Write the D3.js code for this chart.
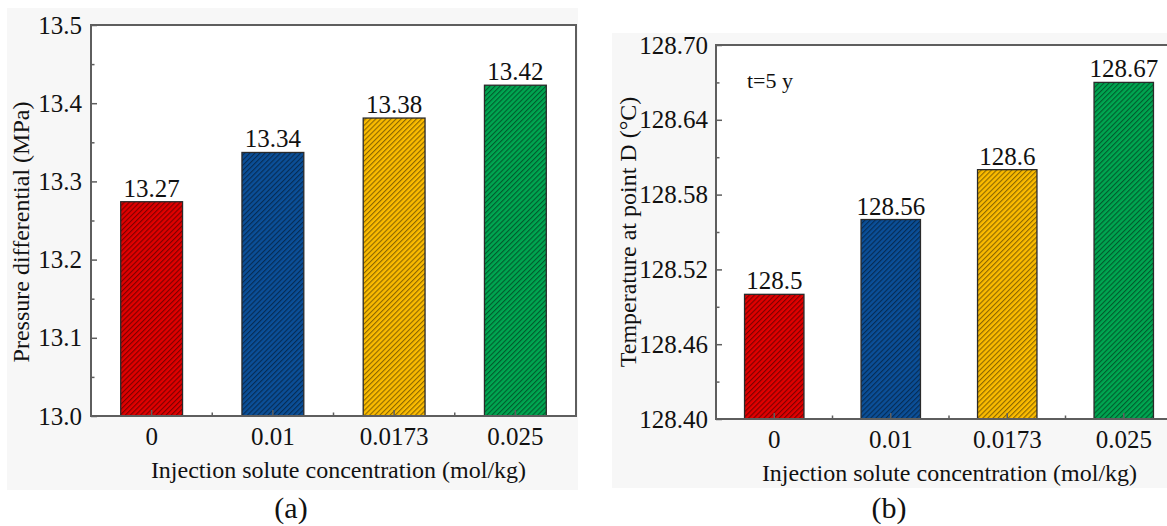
<!DOCTYPE html>
<html>
<head>
<meta charset="utf-8">
<script src="https://cdn.jsdelivr.net/npm/d3@7"></script>
<style>
  body { margin: 0; background: #fff; }
</style>
</head>
<body>
<svg id="chart" width="1167" height="526"></svg>
<script>
// data
var categories = ['0', '0.01', '0.0173', '0.025'];
var barColors = ['#e00000', '#0b4f98', '#fbbb00', '#00a651'];

var pressureValues = [13.274, 13.337, 13.381, 13.423];
var pressureTicks = [13.0, 13.1, 13.2, 13.3, 13.4, 13.5];

var tempValues = [128.5, 128.56, 128.6, 128.67];
var tempTicks = [128.40, 128.46, 128.52, 128.58, 128.64, 128.70];

var FONT = 'Liberation Serif';

var svg = d3.select('#chart');

// hatch pattern, one per colour
var defs = svg.append('defs');
barColors.forEach(function (c, i) {
    var p = defs.append('pattern')
        .attr('id', 'hatch' + i)
        .attr('patternUnits', 'userSpaceOnUse')
        .attr('width', 3.6)
        .attr('height', 3.6)
        .attr('patternTransform', 'rotate(45)');
    p.append('rect').attr('width', 3.6).attr('height', 3.6).attr('fill', c);
    p.append('line')
        .attr('x1', 0.6).attr('y1', 0).attr('x2', 0.6).attr('y2', 3.6)
        .attr('stroke', 'rgba(0,0,0,0.5)')
        .attr('stroke-width', 1);
});

function drawPanel(o) {
    var g = svg.append('g');

    // grey panel background
    g.append('rect')
        .attr('x', o.bg[0]).attr('y', o.bg[1])
        .attr('width', o.bg[2]).attr('height', o.bg[3])
        .attr('fill', '#f7f7f7');

    g.append('rect')
        .attr('x', o.left).attr('y', o.top)
        .attr('width', o.right - o.left).attr('height', o.bottom - o.top)
        .attr('fill', '#fff');

    var x = d3.scaleBand()
        .domain(categories)
        .range([o.left, o.right])
        .paddingInner(0.49)
        .paddingOuter(0.245);

    var y = d3.scaleLinear()
        .domain([o.ticks[0], o.ticks[o.ticks.length - 1]])
        .range([o.bottom, o.top]);

    // bars
    g.selectAll('rect.bar')
        .data(o.values)
        .enter()
        .append('rect')
        .attr('class', 'bar')
        .attr('x', function (d, i) { return x(categories[i]); })
        .attr('y', function (d) { return y(d); })
        .attr('width', x.bandwidth())
        .attr('height', function (d) { return o.bottom - y(d); })
        .attr('fill', function (d, i) { return 'url(#hatch' + i + ')'; })
        .attr('stroke', '#2a2a2a')
        .attr('stroke-width', 1.3);

    // value labels
    g.selectAll('text.val')
        .data(o.values)
        .enter()
        .append('text')
        .attr('class', 'val')
        .attr('x', function (d, i) { return x(categories[i]) + x.bandwidth() / 2; })
        .attr('y', function (d) { return y(d) - 5; })
        .attr('text-anchor', 'middle')
        .attr('font-size', 25)
        .text(o.fmt);

    var axisColor = '#5e5e5e';

    // y minor ticks (between majors)
    var step = o.ticks[1] - o.ticks[0];
    var minor = o.ticks.slice(0, -1).map(function (t) { return t + step / 2; });
    var yAxis = d3.axisLeft(y).tickValues(o.ticks).tickSize(-6).tickFormat(o.tickFmt).tickPadding(o.yPad);
    var yMinor = d3.axisLeft(y).tickValues(minor).tickSize(-3.5).tickFormat('');

    g.append('g').attr('transform', 'translate(' + o.left + ',0)').call(yAxis);
    g.append('g').attr('transform', 'translate(' + o.left + ',0)').call(yMinor);

    // x ticks: centre major, band edges minor
    var xAxis = d3.axisBottom(x).tickSize(-6).tickPadding(11);
    var xa = g.append('g').attr('transform', 'translate(0,' + o.bottom + ')').call(xAxis);
    var edges = d3.range(1, categories.length).map(function (i) { return o.left + i * x.step(); });
    g.selectAll('line.xminor')
        .data(edges)
        .enter()
        .append('line')
        .attr('x1', function (d) { return d; })
        .attr('x2', function (d) { return d; })
        .attr('y1', o.bottom)
        .attr('y2', o.bottom - 3.5)
        .attr('stroke', axisColor)
        .attr('stroke-width', 1.5);

    g.selectAll('.domain').remove();
    g.selectAll('.tick line').attr('stroke', axisColor).attr('stroke-width', 1.5);
    g.selectAll('.tick text')
        .attr('font-size', 25)
        .attr('fill', '#111');
    xa.selectAll('.tick text').attr('dy', '0.71em');

    // frame
    g.append('rect')
        .attr('x', o.left).attr('y', o.top)
        .attr('width', o.right - o.left).attr('height', o.bottom - o.top)
        .attr('fill', 'none')
        .attr('stroke', axisColor)
        .attr('stroke-width', 2);

    // axis titles
    g.append('text')
        .attr('x', (o.left + Math.min(o.right, 1167)) / 2 + o.xTitleShift)
        .attr('y', o.bottom + 62)
        .attr('text-anchor', 'middle')
        .attr('font-size', 24)
        .text('Injection solute concentration (mol/kg)');

    g.append('text')
        .attr('transform', 'translate(' + o.yTitleX + ',' + o.yTitleY + ') rotate(-90)')
        .attr('text-anchor', 'middle')
        .attr('font-size', 24)
        .text(o.yTitle);

    g.append('text')
        .attr('x', o.labelX)
        .attr('y', 518)
        .attr('text-anchor', 'middle')
        .attr('font-size', 30)
        .text(o.label);

    return g;
}

drawPanel({
    bg: [7, 8, 571, 482],
    left: 91, right: 576, top: 25, bottom: 416,
    values: pressureValues,
    ticks: pressureTicks,
    fmt: function (d) { return d.toFixed(2); },
    tickFmt: function (d) { return d.toFixed(1); },
    yPad: 9,
    yTitle: 'Pressure differential (MPa)',
    yTitleX: 29, yTitleY: 232,
    xTitleShift: 5,
    label: '(a)', labelX: 291
});

var gb = drawPanel({
    bg: [612, 33, 555, 455],
    left: 716, right: 1182, top: 45, bottom: 419,
    values: tempValues,
    ticks: tempTicks,
    fmt: function (d) { return String(d); },
    tickFmt: function (d) { return d.toFixed(2); },
    yPad: 8,
    yTitle: 'Temperature at point D (\u00B0C)',
    yTitleX: 636, yTitleY: 232,
    xTitleShift: 8,
    label: '(b)', labelX: 889
});

gb.append('text')
    .attr('x', 747)
    .attr('y', 88)
    .attr('font-size', 22)
    .text('t=5 y');

// one font for every text
svg.selectAll('g').attr('font-family', FONT);
svg.selectAll('text').attr('font-family', FONT).attr('fill', '#111');
</script>
</body>
</html>
